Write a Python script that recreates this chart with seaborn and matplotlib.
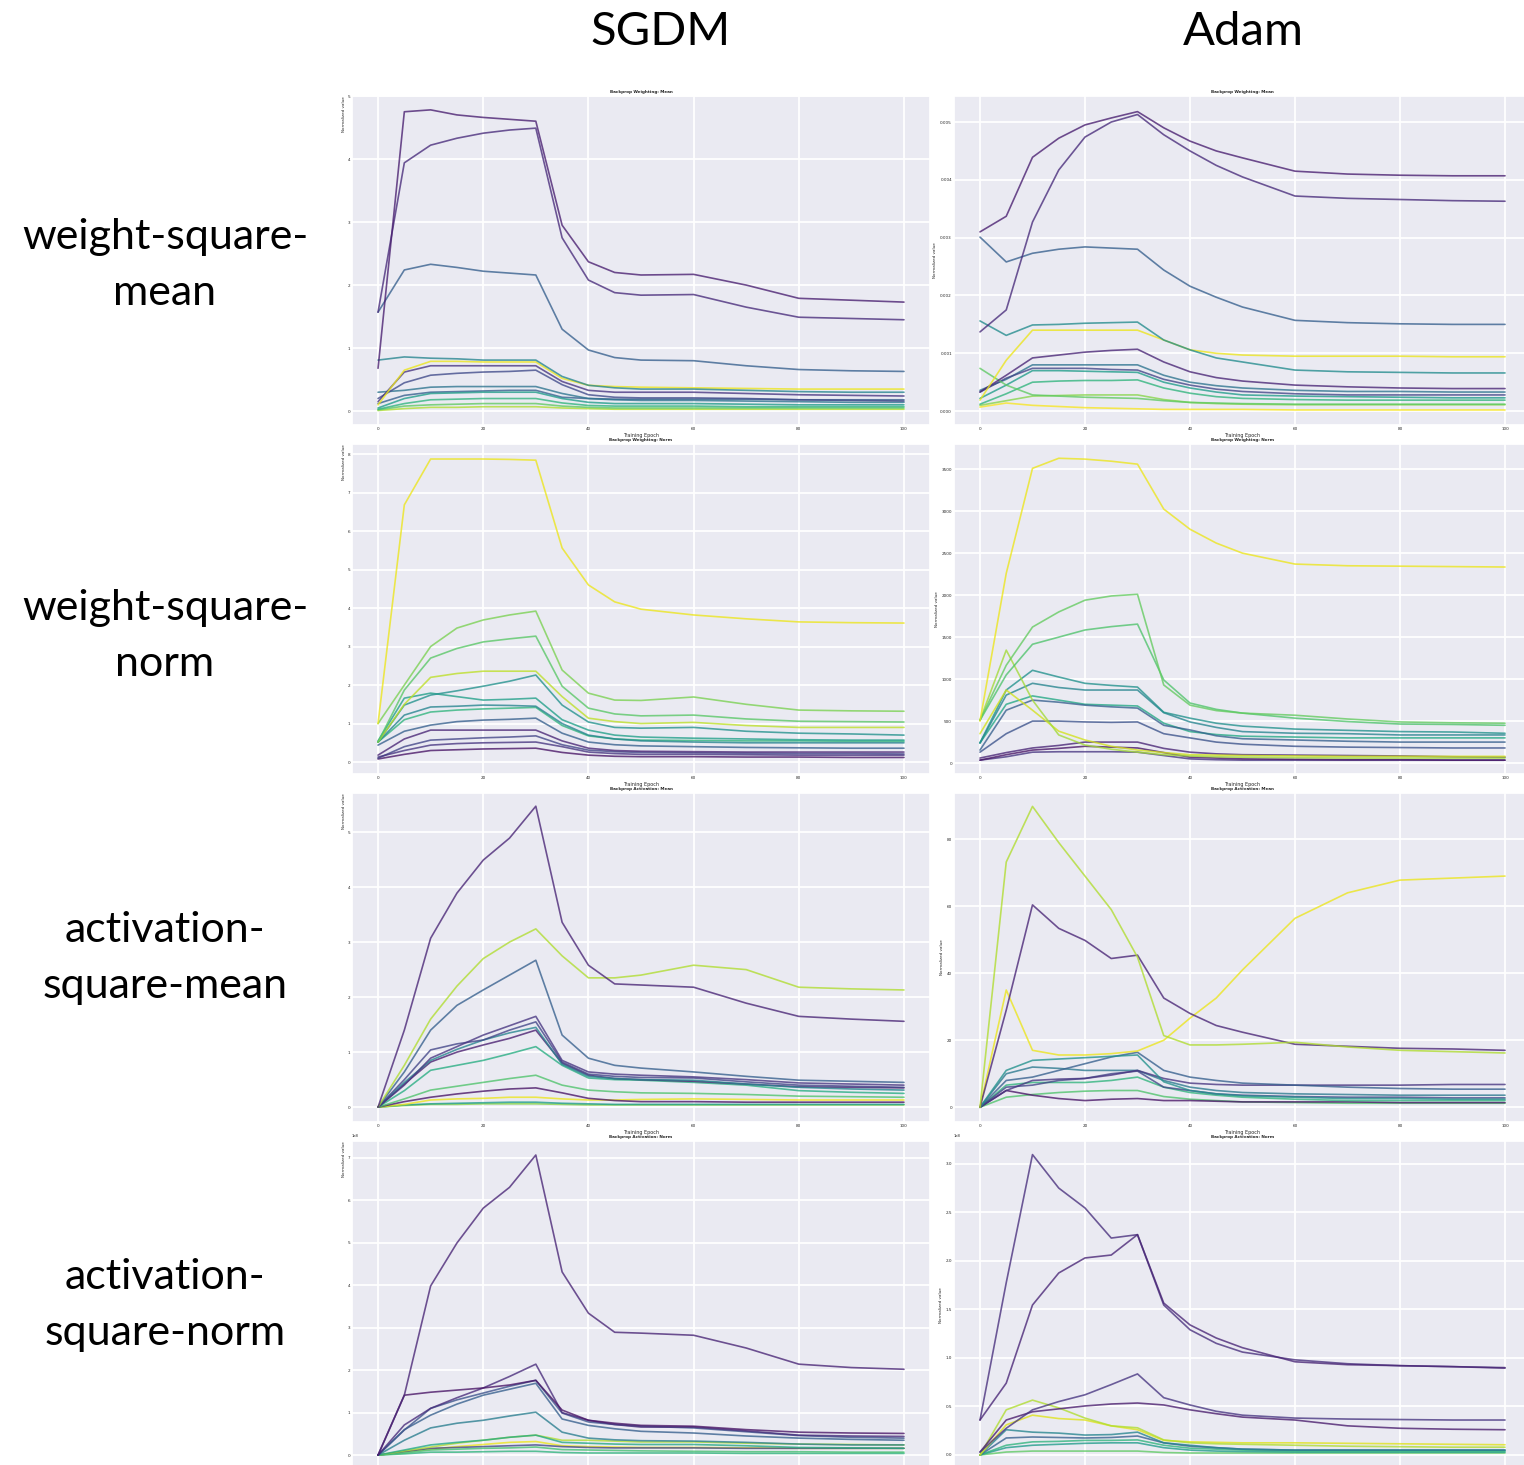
import matplotlib
matplotlib.use("Agg")
import matplotlib.pyplot as plt
import pandas as pd
import seaborn as sns
from matplotlib.ticker import MultipleLocator, FormatStrFormatter, ScalarFormatter

# ---------------------------------------------------------------- data
EPOCHS = [0, 5, 10, 15, 20, 25, 30, 35, 40, 45, 50, 60, 70, 80, 90, 100]

COLUMNS = ["SGDM", "Adam"]
ROW_LABELS = ["weight-square-\nmean", "weight-square-\nnorm",
              "activation-\nsquare-mean", "activation-\nsquare-norm"]
PANEL_TITLES = ["Backprop Weighting: Mean", "Backprop Weighting: Norm",
                "Backprop Activation: Mean", "Backprop Activation: Norm"]
X_LABEL = "Training Epoch"
Y_LABEL = "Normalized value"

# weight-square-mean, SGDM (per-layer curves, in units of SGDM_W_MEAN_UNIT)
SGDM_W_MEAN_UNIT = 1.0
SGDM_W_MEAN_HUES = [0.08, 0.12, 0.30, 0.45, 0.97, 0.15, 0.22, 0.38, 0.55, 0.65, 0.75, 0.88, 0.30]
SGDM_W_MEAN = [
    [0.68, 4.75, 4.78, 4.70, 4.66, 4.63, 4.60, 2.95, 2.37, 2.20, 2.16, 2.17, 2.00, 1.79, 1.76, 1.73],
    [1.57, 3.94, 4.22, 4.33, 4.41, 4.46, 4.49, 2.75, 2.08, 1.88, 1.84, 1.85, 1.65, 1.49, 1.47, 1.45],
    [1.57, 2.24, 2.33, 2.28, 2.22, 2.19, 2.16, 1.30, 0.97, 0.85, 0.81, 0.80, 0.72, 0.66, 0.64, 0.63],
    [0.81, 0.86, 0.84, 0.83, 0.81, 0.81, 0.81, 0.55, 0.41, 0.37, 0.35, 0.35, 0.33, 0.31, 0.30, 0.30],
    [0.10, 0.65, 0.79, 0.79, 0.78, 0.78, 0.78, 0.52, 0.41, 0.39, 0.38, 0.37, 0.36, 0.35, 0.35, 0.35],
    [0.15, 0.62, 0.72, 0.72, 0.72, 0.72, 0.72, 0.47, 0.33, 0.30, 0.30, 0.30, 0.28, 0.26, 0.25, 0.24],
    [0.20, 0.45, 0.57, 0.60, 0.62, 0.63, 0.65, 0.42, 0.26, 0.22, 0.21, 0.21, 0.20, 0.18, 0.17, 0.16],
    [0.30, 0.33, 0.38, 0.39, 0.39, 0.39, 0.39, 0.28, 0.20, 0.18, 0.17, 0.17, 0.16, 0.15, 0.14, 0.14],
    [0.05, 0.20, 0.28, 0.29, 0.30, 0.30, 0.30, 0.20, 0.14, 0.12, 0.12, 0.12, 0.11, 0.10, 0.10, 0.10],
    [0.03, 0.12, 0.18, 0.19, 0.20, 0.20, 0.20, 0.13, 0.09, 0.08, 0.08, 0.08, 0.07, 0.07, 0.07, 0.07],
    [0.02, 0.08, 0.10, 0.11, 0.12, 0.12, 0.12, 0.08, 0.06, 0.05, 0.05, 0.05, 0.05, 0.05, 0.05, 0.05],
    [0.01, 0.04, 0.06, 0.06, 0.07, 0.07, 0.07, 0.05, 0.04, 0.03, 0.03, 0.03, 0.03, 0.03, 0.03, 0.03],
    [0.12, 0.25, 0.30, 0.31, 0.32, 0.33, 0.33, 0.22, 0.20, 0.19, 0.19, 0.19, 0.19, 0.18, 0.18, 0.18],
]

# weight-square-mean, Adam
ADAM_W_MEAN_UNIT = 0.001
ADAM_W_MEAN_HUES = [0.08, 0.12, 0.30, 0.48, 0.97, 0.10, 0.75, 0.20, 0.55, 0.65, 0.82, 0.99, 0.38]
ADAM_W_MEAN = [
    [3.10, 3.37, 4.39, 4.72, 4.95, 5.07, 5.18, 4.90, 4.67, 4.50, 4.38, 4.15, 4.10, 4.08, 4.07, 4.07],
    [1.37, 1.75, 3.27, 4.17, 4.74, 5.00, 5.13, 4.78, 4.50, 4.25, 4.05, 3.72, 3.68, 3.66, 3.64, 3.63],
    [3.01, 2.58, 2.73, 2.80, 2.84, 2.82, 2.80, 2.44, 2.16, 1.97, 1.80, 1.57, 1.53, 1.51, 1.50, 1.50],
    [1.56, 1.31, 1.49, 1.50, 1.52, 1.53, 1.54, 1.23, 1.06, 0.92, 0.85, 0.71, 0.68, 0.67, 0.66, 0.66],
    [0.19, 0.88, 1.40, 1.40, 1.40, 1.40, 1.40, 1.23, 1.06, 1.00, 0.97, 0.95, 0.95, 0.95, 0.94, 0.94],
    [0.33, 0.62, 0.92, 0.97, 1.02, 1.05, 1.07, 0.85, 0.68, 0.58, 0.52, 0.45, 0.42, 0.40, 0.39, 0.39],
    [0.74, 0.45, 0.28, 0.26, 0.24, 0.23, 0.22, 0.18, 0.15, 0.14, 0.13, 0.12, 0.12, 0.12, 0.12, 0.12],
    [0.33, 0.57, 0.74, 0.74, 0.74, 0.72, 0.71, 0.55, 0.45, 0.38, 0.34, 0.30, 0.28, 0.28, 0.28, 0.28],
    [0.22, 0.45, 0.70, 0.70, 0.69, 0.68, 0.67, 0.50, 0.40, 0.33, 0.28, 0.26, 0.25, 0.24, 0.23, 0.23],
    [0.12, 0.30, 0.50, 0.52, 0.53, 0.53, 0.54, 0.40, 0.31, 0.25, 0.22, 0.20, 0.19, 0.19, 0.19, 0.19],
    [0.10, 0.18, 0.26, 0.27, 0.28, 0.28, 0.28, 0.20, 0.15, 0.13, 0.12, 0.11, 0.11, 0.11, 0.11, 0.11],
    [0.07, 0.14, 0.10, 0.08, 0.06, 0.05, 0.04, 0.03, 0.03, 0.03, 0.03, 0.02, 0.02, 0.02, 0.02, 0.02],
    [0.36, 0.55, 0.80, 0.80, 0.80, 0.80, 0.80, 0.62, 0.50, 0.44, 0.40, 0.36, 0.34, 0.34, 0.33, 0.33],
]

# weight-square-norm, SGDM
SGDM_W_NORM_UNIT = 1.0
SGDM_W_NORM_HUES = [0.97, 0.80, 0.74, 0.90, 0.50, 0.56, 0.45, 0.30, 0.10, 0.15, 0.20, 0.05, 0.65]
SGDM_W_NORM = [
    [1.00, 6.68, 7.87, 7.87, 7.87, 7.86, 7.84, 5.56, 4.60, 4.16, 3.97, 3.82, 3.72, 3.64, 3.62, 3.61],
    [1.00, 2.00, 3.00, 3.48, 3.69, 3.82, 3.92, 2.39, 1.79, 1.61, 1.60, 1.69, 1.50, 1.35, 1.33, 1.32],
    [0.52, 1.87, 2.70, 2.95, 3.12, 3.20, 3.27, 1.97, 1.40, 1.25, 1.20, 1.22, 1.12, 1.06, 1.05, 1.04],
    [0.52, 1.50, 2.20, 2.30, 2.36, 2.36, 2.36, 1.70, 1.14, 1.05, 1.00, 1.03, 0.95, 0.90, 0.90, 0.90],
    [0.52, 1.48, 1.74, 1.85, 1.97, 2.10, 2.26, 1.48, 1.04, 0.90, 0.88, 0.90, 0.80, 0.75, 0.73, 0.70],
    [0.55, 1.66, 1.79, 1.70, 1.61, 1.63, 1.66, 1.10, 0.83, 0.70, 0.65, 0.62, 0.60, 0.58, 0.57, 0.57],
    [0.52, 1.22, 1.43, 1.45, 1.48, 1.47, 1.45, 1.00, 0.70, 0.60, 0.55, 0.52, 0.50, 0.50, 0.50, 0.50],
    [0.44, 0.80, 0.96, 1.05, 1.09, 1.11, 1.14, 0.75, 0.52, 0.45, 0.42, 0.40, 0.38, 0.37, 0.36, 0.36],
    [0.18, 0.60, 0.83, 0.83, 0.83, 0.83, 0.83, 0.55, 0.36, 0.30, 0.28, 0.27, 0.26, 0.26, 0.26, 0.26],
    [0.13, 0.30, 0.44, 0.48, 0.50, 0.51, 0.52, 0.40, 0.26, 0.22, 0.20, 0.20, 0.19, 0.18, 0.18, 0.18],
    [0.10, 0.40, 0.57, 0.60, 0.63, 0.65, 0.68, 0.45, 0.31, 0.27, 0.25, 0.24, 0.23, 0.22, 0.22, 0.21],
    [0.08, 0.20, 0.30, 0.32, 0.34, 0.35, 0.36, 0.25, 0.18, 0.15, 0.14, 0.14, 0.13, 0.13, 0.12, 0.12],
    [0.52, 1.10, 1.30, 1.35, 1.38, 1.40, 1.42, 0.95, 0.68, 0.60, 0.57, 0.56, 0.55, 0.55, 0.54, 0.54],
]

# weight-square-norm, Adam
ADAM_W_NORM_UNIT = 500.0
ADAM_W_NORM_HUES = [0.97, 0.76, 0.72, 0.86, 0.93, 0.50, 0.45, 0.30, 0.25, 0.10, 0.05, 0.15, 0.60]
ADAM_W_NORM = [
    [1.00, 4.52, 7.02, 7.26, 7.24, 7.19, 7.12, 6.05, 5.57, 5.24, 5.00, 4.74, 4.70, 4.69, 4.68, 4.67],
    [1.02, 2.33, 3.24, 3.60, 3.88, 3.98, 4.02, 1.86, 1.38, 1.25, 1.19, 1.14, 1.05, 0.98, 0.96, 0.95],
    [1.02, 2.10, 2.83, 3.00, 3.17, 3.25, 3.31, 1.98, 1.43, 1.28, 1.19, 1.07, 0.99, 0.93, 0.92, 0.90],
    [1.02, 2.69, 1.50, 0.67, 0.43, 0.33, 0.26, 0.20, 0.17, 0.15, 0.14, 0.13, 0.12, 0.12, 0.12, 0.12],
    [0.70, 1.74, 1.26, 0.76, 0.55, 0.40, 0.31, 0.25, 0.20, 0.19, 0.18, 0.17, 0.16, 0.16, 0.16, 0.16],
    [0.48, 1.74, 2.21, 2.05, 1.90, 1.85, 1.81, 1.21, 1.07, 0.95, 0.88, 0.81, 0.78, 0.75, 0.74, 0.71],
    [0.48, 1.62, 1.90, 1.80, 1.74, 1.74, 1.74, 1.20, 0.98, 0.85, 0.75, 0.71, 0.70, 0.67, 0.67, 0.67],
    [0.31, 1.26, 1.50, 1.45, 1.38, 1.34, 1.31, 0.90, 0.79, 0.65, 0.58, 0.55, 0.52, 0.50, 0.50, 0.50],
    [0.26, 0.70, 1.00, 1.00, 0.98, 0.97, 0.98, 0.70, 0.60, 0.50, 0.45, 0.40, 0.38, 0.37, 0.36, 0.36],
    [0.12, 0.25, 0.36, 0.42, 0.50, 0.50, 0.50, 0.35, 0.26, 0.22, 0.20, 0.19, 0.18, 0.17, 0.15, 0.14],
    [0.07, 0.20, 0.31, 0.35, 0.40, 0.38, 0.36, 0.25, 0.14, 0.12, 0.10, 0.09, 0.08, 0.08, 0.07, 0.07],
    [0.07, 0.15, 0.26, 0.27, 0.27, 0.27, 0.26, 0.18, 0.10, 0.08, 0.07, 0.07, 0.07, 0.07, 0.07, 0.07],
    [0.48, 1.40, 1.60, 1.50, 1.40, 1.38, 1.36, 0.95, 0.75, 0.68, 0.64, 0.62, 0.60, 0.60, 0.60, 0.60],
]

# activation-square-mean, SGDM
SGDM_A_MEAN_UNIT = 1.0
SGDM_A_MEAN_HUES = [0.10, 0.88, 0.30, 0.15, 0.20, 0.45, 0.08, 0.62, 0.72, 0.05, 0.97, 0.55, 0.82]
SGDM_A_MEAN = [
    [0.00, 1.40, 3.07, 3.89, 4.49, 4.89, 5.47, 3.36, 2.58, 2.24, 2.22, 2.18, 1.89, 1.65, 1.60, 1.56],
    [0.00, 0.76, 1.60, 2.20, 2.70, 3.00, 3.24, 2.75, 2.35, 2.35, 2.40, 2.58, 2.50, 2.18, 2.15, 2.13],
    [0.00, 0.64, 1.40, 1.85, 2.13, 2.40, 2.67, 1.31, 0.89, 0.76, 0.71, 0.64, 0.56, 0.49, 0.47, 0.45],
    [0.00, 0.40, 0.89, 1.10, 1.31, 1.48, 1.65, 0.85, 0.64, 0.60, 0.58, 0.55, 0.50, 0.44, 0.42, 0.40],
    [0.00, 0.50, 1.04, 1.15, 1.22, 1.40, 1.55, 0.82, 0.60, 0.56, 0.54, 0.53, 0.46, 0.40, 0.38, 0.36],
    [0.00, 0.45, 0.85, 1.05, 1.22, 1.35, 1.45, 0.78, 0.56, 0.52, 0.50, 0.49, 0.42, 0.36, 0.33, 0.31],
    [0.00, 0.42, 0.82, 1.00, 1.13, 1.25, 1.40, 0.80, 0.58, 0.52, 0.50, 0.47, 0.42, 0.37, 0.36, 0.35],
    [0.00, 0.30, 0.67, 0.76, 0.85, 0.97, 1.10, 0.76, 0.53, 0.50, 0.49, 0.45, 0.40, 0.30, 0.27, 0.25],
    [0.00, 0.15, 0.31, 0.38, 0.45, 0.52, 0.58, 0.40, 0.31, 0.28, 0.26, 0.25, 0.23, 0.20, 0.19, 0.18],
    [0.00, 0.10, 0.18, 0.24, 0.29, 0.33, 0.35, 0.26, 0.16, 0.12, 0.10, 0.10, 0.09, 0.09, 0.09, 0.09],
    [0.00, 0.05, 0.13, 0.15, 0.16, 0.18, 0.18, 0.15, 0.13, 0.13, 0.14, 0.15, 0.14, 0.13, 0.13, 0.13],
    [0.00, 0.04, 0.06, 0.07, 0.08, 0.09, 0.09, 0.07, 0.06, 0.05, 0.05, 0.05, 0.05, 0.05, 0.05, 0.05],
    [0.00, 0.03, 0.05, 0.05, 0.06, 0.06, 0.06, 0.05, 0.04, 0.04, 0.04, 0.04, 0.04, 0.04, 0.04, 0.04],
]

# activation-square-mean, Adam
ADAM_A_MEAN_UNIT = 20.0
ADAM_A_MEAN_HUES = [0.88, 0.10, 0.97, 0.50, 0.30, 0.15, 0.20, 0.65, 0.05, 0.72, 0.40]
ADAM_A_MEAN = [
    [0.00, 3.66, 4.49, 3.95, 3.45, 2.95, 2.24, 1.07, 0.93, 0.93, 0.94, 0.97, 0.90, 0.85, 0.83, 0.81],
    [0.00, 1.45, 3.02, 2.67, 2.49, 2.22, 2.27, 1.63, 1.40, 1.22, 1.12, 0.94, 0.91, 0.88, 0.87, 0.85],
    [0.00, 1.75, 0.85, 0.78, 0.78, 0.80, 0.84, 1.00, 1.33, 1.63, 2.05, 2.82, 3.20, 3.39, 3.42, 3.45],
    [0.00, 0.55, 0.70, 0.72, 0.74, 0.76, 0.78, 0.38, 0.25, 0.20, 0.17, 0.15, 0.13, 0.13, 0.12, 0.12],
    [0.00, 0.40, 0.45, 0.55, 0.65, 0.75, 0.82, 0.55, 0.45, 0.40, 0.36, 0.33, 0.30, 0.28, 0.27, 0.27],
    [0.00, 0.25, 0.40, 0.42, 0.43, 0.48, 0.55, 0.43, 0.36, 0.34, 0.33, 0.33, 0.33, 0.33, 0.34, 0.34],
    [0.00, 0.30, 0.33, 0.40, 0.43, 0.50, 0.54, 0.30, 0.25, 0.20, 0.18, 0.16, 0.15, 0.15, 0.14, 0.14],
    [0.00, 0.33, 0.37, 0.37, 0.37, 0.40, 0.45, 0.30, 0.22, 0.18, 0.15, 0.12, 0.10, 0.10, 0.10, 0.10],
    [0.00, 0.25, 0.18, 0.13, 0.10, 0.12, 0.13, 0.10, 0.10, 0.09, 0.08, 0.08, 0.08, 0.07, 0.07, 0.07],
    [0.00, 0.15, 0.19, 0.22, 0.24, 0.25, 0.25, 0.16, 0.12, 0.10, 0.08, 0.07, 0.06, 0.06, 0.06, 0.06],
    [0.00, 0.50, 0.60, 0.58, 0.55, 0.55, 0.55, 0.40, 0.30, 0.25, 0.22, 0.20, 0.19, 0.18, 0.18, 0.18],
]

# activation-square-norm, SGDM
SGDM_A_NORM_UNIT = 1e8
SGDM_A_NORM_HUES = [0.10, 0.05, 0.12, 0.25, 0.30, 0.42, 0.60, 0.88, 0.70, 0.20, 0.65, 0.97]
SGDM_A_NORM = [
    [0.00, 1.41, 3.98, 4.99, 5.81, 6.30, 7.06, 4.31, 3.34, 2.89, 2.87, 2.82, 2.52, 2.14, 2.06, 2.02],
    [0.00, 1.41, 1.48, 1.53, 1.58, 1.65, 1.76, 1.06, 0.82, 0.75, 0.70, 0.68, 0.60, 0.54, 0.52, 0.51],
    [0.00, 0.71, 1.10, 1.35, 1.58, 1.85, 2.14, 1.00, 0.82, 0.72, 0.66, 0.66, 0.57, 0.47, 0.45, 0.44],
    [0.00, 0.59, 1.10, 1.30, 1.46, 1.62, 1.76, 0.99, 0.78, 0.72, 0.68, 0.64, 0.55, 0.46, 0.42, 0.40],
    [0.00, 0.60, 0.94, 1.20, 1.41, 1.55, 1.69, 0.85, 0.70, 0.62, 0.56, 0.52, 0.45, 0.40, 0.37, 0.35],
    [0.00, 0.35, 0.64, 0.75, 0.82, 0.92, 1.01, 0.54, 0.40, 0.36, 0.34, 0.33, 0.30, 0.26, 0.24, 0.24],
    [0.00, 0.12, 0.24, 0.30, 0.35, 0.42, 0.47, 0.30, 0.28, 0.26, 0.25, 0.25, 0.22, 0.18, 0.17, 0.16],
    [0.00, 0.10, 0.19, 0.28, 0.35, 0.42, 0.47, 0.35, 0.35, 0.33, 0.31, 0.31, 0.28, 0.26, 0.25, 0.24],
    [0.00, 0.05, 0.12, 0.14, 0.16, 0.17, 0.19, 0.13, 0.12, 0.11, 0.10, 0.09, 0.08, 0.08, 0.07, 0.07],
    [0.00, 0.08, 0.16, 0.18, 0.20, 0.22, 0.24, 0.20, 0.18, 0.17, 0.17, 0.17, 0.16, 0.16, 0.16, 0.16],
    [0.00, 0.03, 0.07, 0.07, 0.08, 0.09, 0.09, 0.06, 0.05, 0.05, 0.05, 0.05, 0.04, 0.04, 0.04, 0.04],
    [0.00, 0.08, 0.14, 0.20, 0.25, 0.30, 0.32, 0.22, 0.20, 0.19, 0.18, 0.18, 0.17, 0.16, 0.16, 0.16],
]

# activation-square-norm, Adam
ADAM_A_NORM_UNIT = 5e7
ADAM_A_NORM_HUES = [0.10, 0.13, 0.15, 0.07, 0.88, 0.95, 0.45, 0.30, 0.65, 0.55, 0.75]
ADAM_A_NORM = [
    [0.72, 1.48, 3.09, 3.75, 4.06, 4.12, 4.54, 3.13, 2.68, 2.41, 2.21, 1.92, 1.86, 1.84, 1.82, 1.79],
    [0.72, 3.55, 6.19, 5.50, 5.09, 4.47, 4.54, 3.09, 2.58, 2.30, 2.12, 1.96, 1.88, 1.84, 1.82, 1.80],
    [0.06, 0.55, 0.93, 1.10, 1.24, 1.45, 1.67, 1.18, 1.03, 0.90, 0.82, 0.76, 0.74, 0.73, 0.72, 0.72],
    [0.06, 0.72, 0.89, 0.95, 1.01, 1.05, 1.07, 1.03, 0.93, 0.85, 0.78, 0.72, 0.60, 0.55, 0.53, 0.52],
    [0.00, 0.93, 1.13, 0.97, 0.76, 0.60, 0.56, 0.31, 0.25, 0.23, 0.22, 0.20, 0.18, 0.17, 0.16, 0.16],
    [0.00, 0.62, 0.82, 0.75, 0.72, 0.60, 0.52, 0.30, 0.27, 0.26, 0.25, 0.25, 0.24, 0.23, 0.22, 0.21],
    [0.00, 0.52, 0.47, 0.45, 0.41, 0.42, 0.47, 0.25, 0.20, 0.15, 0.12, 0.10, 0.10, 0.10, 0.10, 0.10],
    [0.00, 0.35, 0.37, 0.36, 0.35, 0.36, 0.39, 0.25, 0.18, 0.15, 0.12, 0.10, 0.10, 0.10, 0.10, 0.10],
    [0.00, 0.20, 0.27, 0.28, 0.30, 0.30, 0.31, 0.20, 0.14, 0.12, 0.10, 0.08, 0.08, 0.08, 0.08, 0.08],
    [0.00, 0.15, 0.20, 0.22, 0.24, 0.25, 0.25, 0.15, 0.10, 0.08, 0.07, 0.06, 0.06, 0.06, 0.06, 0.06],
    [0.00, 0.06, 0.08, 0.08, 0.08, 0.08, 0.08, 0.05, 0.04, 0.04, 0.04, 0.04, 0.04, 0.04, 0.04, 0.04],
]

PANELS = [
    [(SGDM_W_MEAN, SGDM_W_MEAN_HUES, SGDM_W_MEAN_UNIT), (ADAM_W_MEAN, ADAM_W_MEAN_HUES, ADAM_W_MEAN_UNIT)],
    [(SGDM_W_NORM, SGDM_W_NORM_HUES, SGDM_W_NORM_UNIT), (ADAM_W_NORM, ADAM_W_NORM_HUES, ADAM_W_NORM_UNIT)],
    [(SGDM_A_MEAN, SGDM_A_MEAN_HUES, SGDM_A_MEAN_UNIT), (ADAM_A_MEAN, ADAM_A_MEAN_HUES, ADAM_A_MEAN_UNIT)],
    [(SGDM_A_NORM, SGDM_A_NORM_HUES, SGDM_A_NORM_UNIT), (ADAM_A_NORM, ADAM_A_NORM_HUES, ADAM_A_NORM_UNIT)],
]

# y-limits per panel, in the panel's own units
Y_LIMITS = [
    [(-0.22, 5.0), (-0.24, 5.45)],
    [(-0.31, 8.26), (-0.26, 7.6)],
    [(-0.27, 5.71), (-0.22, 4.69)],
    [(-0.35, 7.39), (-0.31, 6.47)],
]

# ---------------------------------------------------------------- layout (pixels)
W, H = 1524, 1465
COL_X = [(352, 930), (954, 1531)]
ROW_Y = [(96, 425), (444, 774), (793, 1122), (1141, 1470)]
COL_TITLE_X = [661, 1243]
ROW_LABEL_Y = [265, 636, 958, 1305]

sns.set_theme(style="darkgrid", rc={"grid.linewidth": 1.3, "axes.facecolor": "#EAEAF2"})
plt.rcParams["font.family"] = ["Lato", "DejaVu Sans"]

cmap = sns.color_palette("viridis", as_cmap=True)
fig = plt.figure(figsize=(W / 100, H / 100), dpi=100)

TICK_FS = 3


def px_rect(x0, x1, y0, y1):
    return [x0 / W, 1 - y1 / H, (x1 - x0) / W, (y1 - y0) / H]


for r in range(4):
    for c in range(2):
        lines, hues, unit = PANELS[r][c]
        x0, x1 = COL_X[c]
        y0, y1 = ROW_Y[r]
        ax = fig.add_axes(px_rect(x0, x1, y0, y1))

        records = []
        for i, vals in enumerate(lines):
            for e, v in zip(EPOCHS, vals):
                records.append({"epoch": e, "value": v * unit, "layer": f"layer{i}"})
        df = pd.DataFrame(records)
        palette = {f"layer{i}": cmap(h) for i, h in enumerate(hues)}
        order = [f"layer{i}" for i in range(len(lines))][::-1]
        sns.lineplot(data=df, x="epoch", y="value", hue="layer", hue_order=order,
                     palette=palette, legend=False, linewidth=1.2, alpha=0.78, ax=ax)

        lo, hi = Y_LIMITS[r][c]
        ax.set_ylim(lo * unit, hi * unit)
        ax.set_xlim(-4.95, 104.95)
        ax.xaxis.set_major_locator(MultipleLocator(20))
        ax.yaxis.set_major_locator(MultipleLocator(unit))
        if unit < 0.01:
            ax.yaxis.set_major_formatter(FormatStrFormatter("%.3f"))
        elif unit >= 1e7:
            fmt = ScalarFormatter(useMathText=False)
            fmt.set_powerlimits((0, 0))
            ax.yaxis.set_major_formatter(fmt)
            ax.yaxis.get_offset_text().set_fontsize(TICK_FS)
        else:
            ax.yaxis.set_major_formatter(FormatStrFormatter("%g"))
        ax.tick_params(axis="both", labelsize=TICK_FS, pad=1.5, length=0)
        ax.set_title(PANEL_TITLES[r], fontsize=TICK_FS, pad=2, fontweight="bold",
                     family="DejaVu Sans")
        if r < 3:
            ax.set_xlabel(X_LABEL, fontsize=TICK_FS + 0.5, labelpad=1.5, family="DejaVu Sans")
        else:
            # the bottom row runs past the lower edge of the figure
            ax.set_xlabel("")
            ax.tick_params(axis="x", labelbottom=False)
        if c == 1:
            ax.set_ylabel(Y_LABEL, fontsize=TICK_FS, labelpad=2, family="DejaVu Sans")
        else:
            ax.set_ylabel(Y_LABEL, fontsize=TICK_FS, labelpad=1, loc="top",
                          family="DejaVu Sans")
        for lab in ax.get_xticklabels() + ax.get_yticklabels():
            lab.set_family("DejaVu Sans")

for c, name in enumerate(COLUMNS):
    fig.text(COL_TITLE_X[c] / W, 1 - 32 / H, name, ha="center", va="center",
             fontsize=34, color="black")

for r, label in enumerate(ROW_LABELS):
    fig.text(165 / W, 1 - ROW_LABEL_Y[r] / H, label, ha="center", va="center",
             fontsize=31, color="black", linespacing=1.6)

fig.savefig("out.png", dpi=100)
